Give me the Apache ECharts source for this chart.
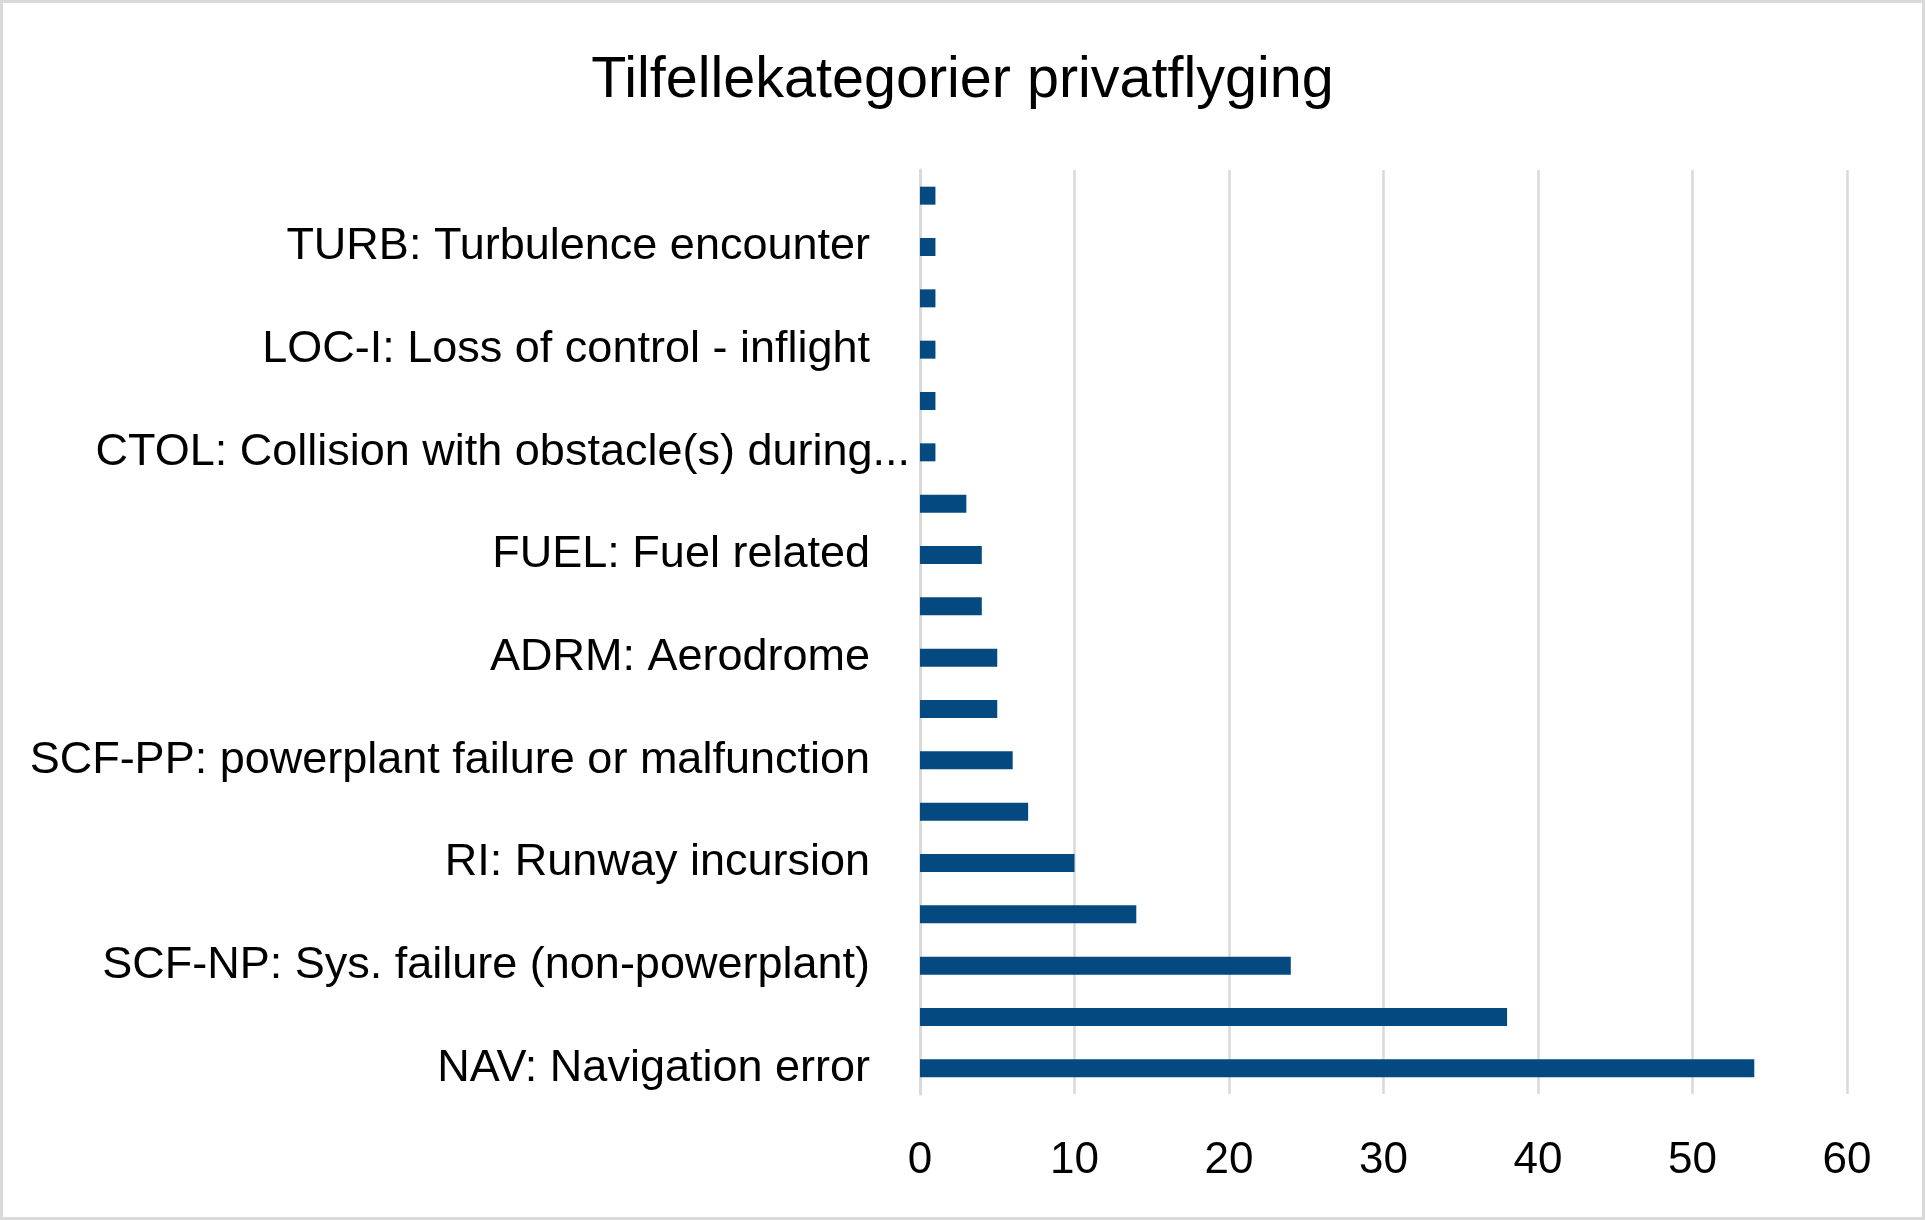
<!DOCTYPE html>
<html>
<head>
<meta charset="utf-8">
<script src="https://cdn.jsdelivr.net/npm/echarts@6/dist/echarts.min.js"></script>
<style>
html,body{margin:0;padding:0;background:#fff;}
#chart{width:1925px;height:1220px;}
</style>
</head>
<body>
<div id="chart"></div>
<script>
// Categories listed bottom to top (as drawn on the y axis)
const categories = [
  "NAV: Navigation error",
  "OTHR: Other",
  "SCF-NP: Sys. failure (non-powerplant)",
  "ARC: Abnormal runway contact",
  "RI: Runway incursion",
  "UNK: Unknown or undetermined",
  "SCF-PP: powerplant failure or malfunction",
  "MAC: Airprox / near midair collision",
  "ADRM: Aerodrome",
  "RE: Runway excursion",
  "FUEL: Fuel related",
  "LALT: Low altitude operations",
  "CTOL: Collision with obstacle(s) during take-off and landing",
  "GCOL: Ground collision",
  "LOC-I: Loss of control - inflight",
  "CFIT: Controlled flight into or toward terrain",
  "TURB: Turbulence encounter",
  "UIMC: Unintended flight in IMC"
];
const counts = [54, 38, 24, 14, 10, 7, 6, 5, 5, 4, 4, 3, 1, 1, 1, 1, 1, 1];
const xTicks = [0, 10, 20, 30, 40, 50, 60];
const titleText = "Tilfellekategorier privatflyging";

const chart = echarts.init(document.getElementById('chart'), null, {renderer: 'canvas'});
const option = {
  backgroundColor: '#ffffff',
  animation: false,
  title: {
    text: titleText,
    left: 'center',
    top: 47,
    textStyle: {fontFamily: 'Liberation Sans', fontSize: 57.5, fontWeight: 'normal', color: '#000'}
  },
  graphic: [{
    type: 'rect',
    shape: {x: 1.5, y: 1.5, width: 1922, height: 1217},
    style: {fill: 'none', stroke: '#d9d9d9', lineWidth: 3},
    silent: true
  }],
  grid: {left: 920, right: 78, top: 170, bottom: 126, containLabel: false},
  xAxis: {
    type: 'value',
    min: xTicks[0],
    max: xTicks[xTicks.length - 1],
    interval: 10,
    axisLine: {show: false},
    axisTick: {show: false},
    splitLine: {show: true, lineStyle: {color: '#d9d9d9', width: 2.5}},
    axisLabel: {
      margin: 45,
      fontFamily: 'Liberation Sans',
      fontSize: 44,
      color: '#000'
    }
  },
  yAxis: {
    type: 'category',
    data: categories,
    axisLine: {show: true, lineStyle: {color: '#d9d9d9', width: 3}},
    axisTick: {show: false},
    splitLine: {show: false},
    axisLabel: {
      interval: 1,
      margin: 10,
      formatter: function (v) {
        if (v.length > 45) return '{t|' + v.slice(0, 39) + '...}';
        return '{n|' + v + '}';
      },
      rich: {
        n: {fontFamily: 'Liberation Sans', fontSize: 45, color: '#000', padding: [0, 40, 0, 0]},
        t: {fontFamily: 'Liberation Sans', fontSize: 45, color: '#000'}
      }
    }
  },
  series: [{
    type: 'bar',
    data: counts,
    barWidth: 18,
    itemStyle: {color: '#044a80'}
  }]
};
chart.setOption(option);
</script>
</body>
</html>
